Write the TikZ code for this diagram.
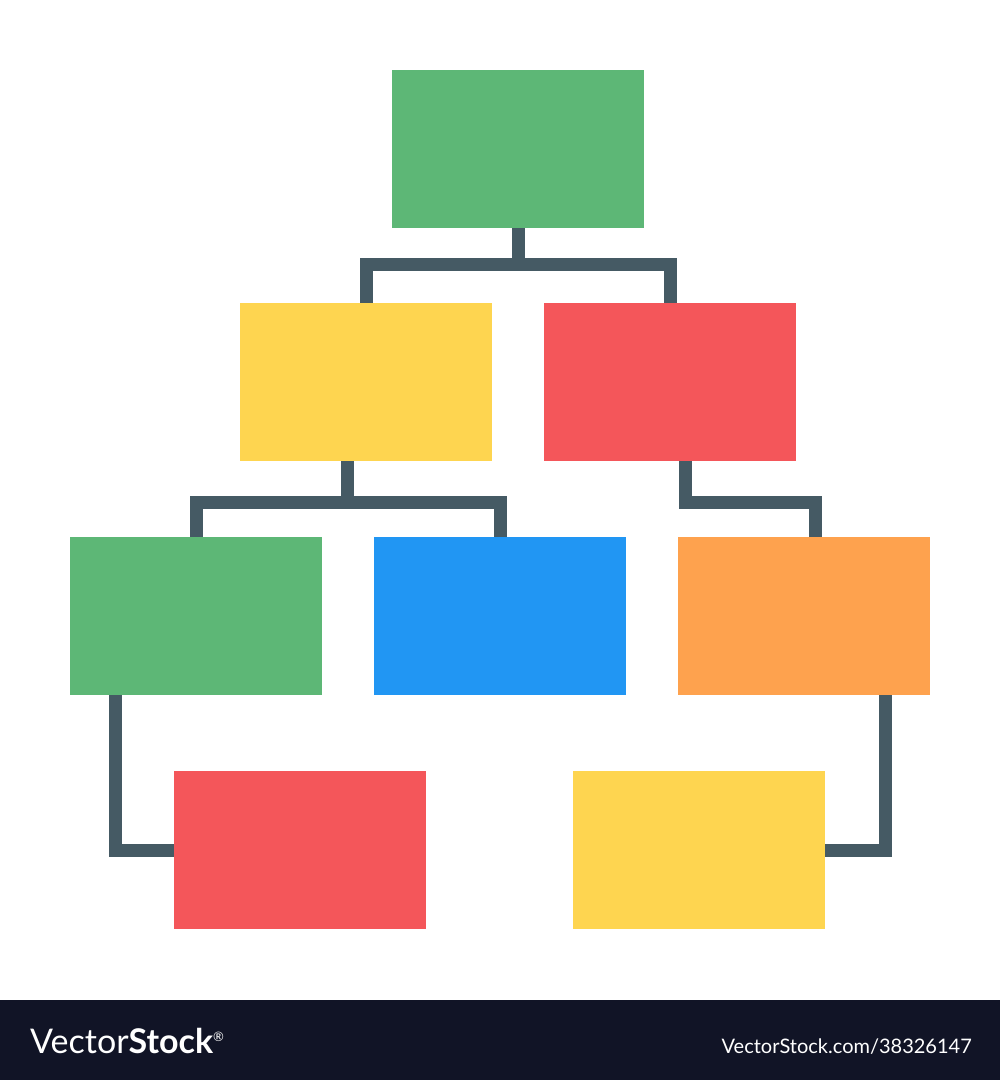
\documentclass[tikz,border=0pt]{standalone}
\usepackage{fontspec}
\setmainfont{Lato}
\usetikzlibrary{calc}
\definecolor{cgreen}{RGB}{93,183,118}
\definecolor{cyellow}{RGB}{254,213,80}
\definecolor{cred}{RGB}{244,86,90}
\definecolor{cblue}{RGB}{33,150,243}
\definecolor{corange}{RGB}{254,162,78}
\definecolor{cslate}{RGB}{69,90,100}
\definecolor{cbar}{RGB}{17,20,38}
\tikzset{
  box/.style={minimum width=252pt, minimum height=158pt, inner sep=0pt, outer sep=0pt, anchor=north west, draw=none},
  link/.style={draw=cslate, line width=13pt, line join=miter, line cap=butt},
}
\begin{document}
\begin{tikzpicture}[x=1pt,y=-1pt]
\useasboundingbox (0,0) rectangle (1000,1080);
\fill[white] (0,0) rectangle (1000,1000);
\path
  (392,70)  node[box] (g1) {}
  (240,303) node[box] (y1) {}
  (544,303) node[box] (r1) {}
  (70,537)  node[box] (g2) {}
  (374,537) node[box] (b1) {}
  (678,537) node[box] (o1) {}
  (174,771) node[box] (r2) {}
  (573,771) node[box] (y2) {};
% junctions
\coordinate (j1) at (518,264.5);
\coordinate (j2) at (347.5,502.5);
\coordinate (j3) at (685,502.5);
\coordinate (j4) at (815.5,0);
\coordinate (c1) at (115,0);
\coordinate (c2) at (885,0);
% connectors
\draw[link] (g1.south) -- (j1);
\draw[link] (y1.north) |- (j1) -| (r1.north);
\draw[link] (y1.south -| j2) -- (j2);
\draw[link] (g2.north) |- (j2) -| (b1.north);
\draw[link] (r1.south -| j3) -- (j3) -| (o1.north -| j4);
\draw[link] (g2.south -| c1) |- (r2.west);
\draw[link] (o1.south -| c2) |- (y2.east);
% fills
\fill[cgreen]  (g1.north west) rectangle (g1.south east);
\fill[cyellow] (y1.north west) rectangle (y1.south east);
\fill[cred]    (r1.north west) rectangle (r1.south east);
\fill[cgreen]  (g2.north west) rectangle (g2.south east);
\fill[cblue]   (b1.north west) rectangle (b1.south east);
\fill[corange] (o1.north west) rectangle (o1.south east);
\fill[cred]    (r2.north west) rectangle (r2.south east);
\fill[cyellow] (y2.north west) rectangle (y2.south east);
% bottom bar
\fill[cbar] (0,1000) rectangle (1000,1080);
\node[anchor=base west, inner sep=0pt, text=white, font=\fontsize{34}{34}\selectfont] (logo) at (30,1053) {Vector\textbf{Stock}\raisebox{12pt}{\fontsize{13}{13}\selectfont ®}};
\node[anchor=base east, inner sep=0pt, text=white, font=\fontsize{20}{20}\selectfont] (url) at (972,1053) {VectorStock.com/38326147};
\end{tikzpicture}
\end{document}
